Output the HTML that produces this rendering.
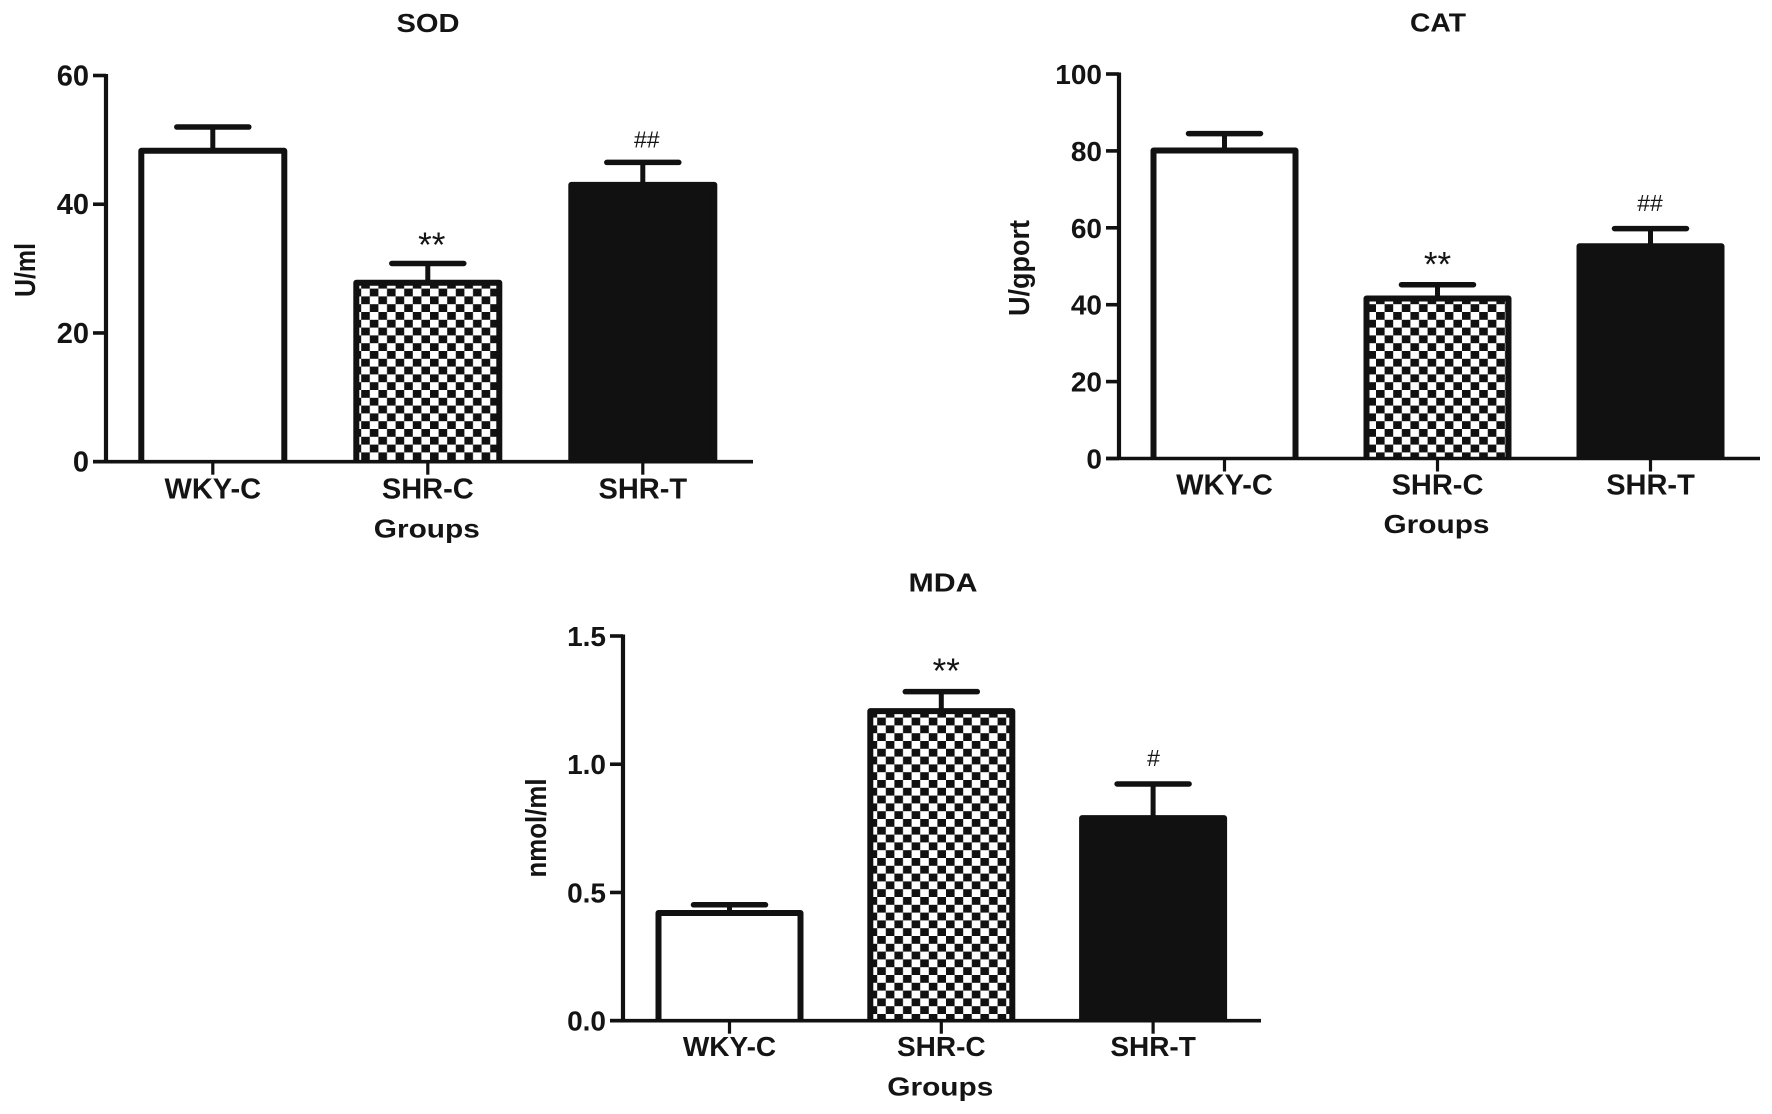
<!DOCTYPE html>
<html lang="en">
<head>
<meta charset="utf-8">
<title>SOD, CAT and MDA by group</title>
<style>
html,body{margin:0;padding:0;background:#fff;width:1772px;height:1114px;overflow:hidden}
svg{display:block;position:absolute;left:0;top:0}
text{font-family:"Liberation Sans",sans-serif;fill:#141414}
</style>
</head>
<body>
<svg id="figure" xmlns="http://www.w3.org/2000/svg" width="1772" height="1114" viewBox="0 0 1772 1114">
<defs>
<pattern id="checker" patternUnits="userSpaceOnUse" x="0" y="0" width="17.2" height="15.6">
<rect width="17.2" height="15.6" fill="#fff"/>
<rect width="8.6" height="7.8" fill="#111"/>
<rect x="8.6" y="7.8" width="8.6" height="7.8" fill="#111"/>
</pattern>
</defs>
</svg>
<script>
const categories = ['WKY-C', 'SHR-C', 'SHR-T'];

const sodValues = [48.3, 27.8, 43.0];
const sodErrors = [3.7, 3.0, 3.5];
const sodTicks = [0, 20, 40, 60];
const sodTickLabels = ['0', '20', '40', '60'];
const sodMarks = ['', '**', '##'];

const catValues = [80.1, 41.6, 55.2];
const catErrors = [4.4, 3.6, 4.6];
const catTicks = [0, 20, 40, 60, 80, 100];
const catTickLabels = ['0', '20', '40', '60', '80', '100'];
const catMarks = ['', '**', '##'];

const mdaValues = [0.42, 1.207, 0.79];
const mdaErrors = [0.032, 0.076, 0.133];
const mdaTicks = [0, 0.5, 1.0, 1.5];
const mdaTickLabels = ['0.0', '0.5', '1.0', '1.5'];
const mdaMarks = ['', '**', '#'];

const NS = 'http://www.w3.org/2000/svg';
const figure = document.getElementById('figure');

function make(tag, props, parent) {
  const el = document.createElementNS(NS, tag);
  for (const k in props) el.setAttribute(k, props[k]);
  parent.appendChild(el);
  return el;
}

function drawChart(c) {
  const yMax = c.ticks[c.ticks.length - 1];
  const yScale = v => c.y0 - (v / yMax) * (c.y0 - c.yTop);
  const xScale = i => c.x0 + i * c.step;

  const group = make('g', {}, figure);
  
  

  c.values.forEach((v, i) => {
    const cx = xScale(i);
    const top = yScale(v);
    const capY = yScale(v + c.errors[i]);
    const left = cx - c.barW / 2;
    const right = cx + c.barW / 2;

    const stem = make('line', {x1: cx, x2: cx, y1: top, y2: capY, stroke: '#111', 'stroke-width': 5}, group);
    
    

    const cap = make('line', {x1: cx - 36, x2: cx + 36, y1: capY, y2: capY, stroke: '#111', 'stroke-width': 5.5, 'stroke-linecap': 'round'}, group);
    
    

    const fills = ['#fff', 'url(#checker)', '#111'];
    const bar = make('rect', {x: left, y: top, width: c.barW, height: c.y0 - top, fill: fills[i]}, group);
    
    

    const outline = make('path', {d: 'M' + left + ' ' + c.y0 + 'V' + top + 'H' + right + 'V' + c.y0, fill: 'none', stroke: '#111', 'stroke-width': 6, 'stroke-linejoin': 'round'}, group);
    
    

    const tick = make('line', {x1: cx, x2: cx, y1: c.y0, y2: c.y0 + 13, stroke: '#111', 'stroke-width': 3.2}, group);
    
    

    const label = make('text', {x: cx, y: c.y0 + c.labelDy, 'text-anchor': 'middle', 'font-size': c.labelSize, 'font-weight': 'bold'}, group);
    label.textContent = categories[i];
    
    

    if (c.marks[i]) {
      const isStar = c.marks[i].charAt(0) === '*';
      const mark = make('text', {x: cx + (isStar ? c.starDx : c.hashDx), y: capY + (isStar ? c.starDy : c.hashDy), 'text-anchor': 'middle', 'font-size': isStar ? 35 : 23}, group);
      mark.textContent = c.marks[i];
      
      
    }
  });

  const yAxis = make('line', {x1: c.axisX, x2: c.axisX, y1: c.yTop - 1.5, y2: c.y0 + 1.5, stroke: '#111', 'stroke-width': 4.2}, group);
  
  

  const xAxis = make('line', {x1: c.axisX - 13, x2: c.xEnd, y1: c.y0, y2: c.y0, stroke: '#111', 'stroke-width': 3.6}, group);
  
  

  c.ticks.forEach((t, i) => {
    const y = yScale(t);
    const tick = make('line', {x1: c.axisX - 13, x2: c.axisX, y1: y, y2: y, stroke: '#111', 'stroke-width': 3.6}, group);
    
    

    const label = make('text', {x: c.axisX - 17, y: y + 10, 'text-anchor': 'end', 'font-size': c.tickSize, 'font-weight': 'bold'}, group);
    label.textContent = c.tickLabels[i];
    
    
  });

  const title = make('text', {x: c.titleX, y: c.titleY, 'text-anchor': 'middle', 'font-size': 26, 'font-weight': 'bold', textLength: c.titleW, lengthAdjust: 'spacingAndGlyphs'}, group);
  title.textContent = c.title;
  
  

  const xTitle = make('text', {x: c.x0 + c.step - 1, y: c.xTitleY, 'text-anchor': 'middle', 'font-size': 26, 'font-weight': 'bold', textLength: 106, lengthAdjust: 'spacingAndGlyphs'}, group);
  xTitle.textContent = 'Groups';
  
  

  const yTitle = make('text', {transform: 'translate(' + c.yTitleX + ',' + c.yTitleY + ') rotate(-90)', 'text-anchor': 'middle', 'font-size': 29, 'font-weight': 'bold', textLength: c.yTitleW, lengthAdjust: 'spacingAndGlyphs'}, group);
  yTitle.textContent = c.yTitle;
  
  
}

drawChart({
  id: 'sod', title: 'SOD', titleX: 428, titleY: 32, titleW: 63,
  yTitle: 'U/ml', yTitleX: 35, yTitleY: 270, yTitleW: 54,
  values: sodValues, errors: sodErrors, ticks: sodTicks, tickLabels: sodTickLabels, marks: sodMarks,
  axisX: 106, xEnd: 753, y0: 461.7, yTop: 75.5, x0: 212.8, step: 215, barW: 143,
  labelDy: 37, labelSize: 29, tickSize: 29, xTitleY: 537.7,
  starDx: 4, starDy: -6.5, hashDx: 4, hashDy: -15
});

drawChart({
  id: 'cat', title: 'CAT', titleX: 1438, titleY: 31.5, titleW: 56,
  yTitle: 'U/gport', yTitleX: 1029, yTitleY: 268, yTitleW: 96,
  values: catValues, errors: catErrors, ticks: catTicks, tickLabels: catTickLabels, marks: catMarks,
  axisX: 1119, xEnd: 1760, y0: 458.5, yTop: 74, x0: 1224.5, step: 213, barW: 142,
  labelDy: 36, labelSize: 29, tickSize: 28, xTitleY: 533,
  starDx: 0, starDy: -8, hashDx: -0.5, hashDy: -17.5
});

drawChart({
  id: 'mda', title: 'MDA', titleX: 943, titleY: 591.5, titleW: 69,
  yTitle: 'nmol/ml', yTitleX: 546, yTitleY: 828, yTitleW: 99,
  values: mdaValues, errors: mdaErrors, ticks: mdaTicks, tickLabels: mdaTickLabels, marks: mdaMarks,
  axisX: 623, xEnd: 1261, y0: 1020.7, yTop: 636, x0: 729.5, step: 211.8, barW: 142,
  labelDy: 35.5, labelSize: 28, tickSize: 28, xTitleY: 1095.7,
  starDx: 5, starDy: -8.7, hashDx: 0.4, hashDy: -18
});
</script>
</body>
</html>
